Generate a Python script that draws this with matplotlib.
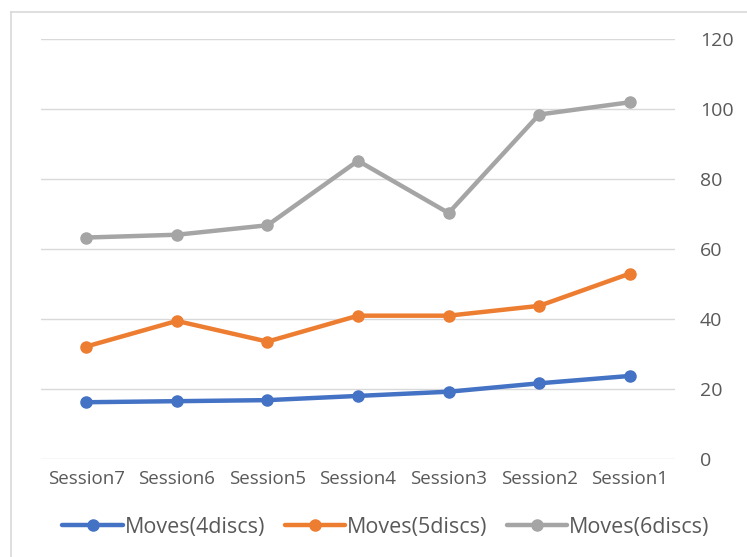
import matplotlib
matplotlib.use("Agg")
import matplotlib.pyplot as plt
from matplotlib.lines import Line2D

categories = ["Session7", "Session6", "Session5", "Session4", "Session3", "Session2", "Session1"]
moves_4discs = [16.2, 16.5, 16.8, 18.0, 19.2, 21.6, 23.7]
moves_5discs = [32.1, 39.4, 33.5, 40.9, 40.9, 43.7, 52.9]
moves_6discs = [63.2, 64.0, 66.7, 85.1, 70.2, 98.3, 101.8]
series_names = ["Moves(4discs)", "Moves(5discs)", "Moves(6discs)"]
colors = ["#4472C4", "#ED7D31", "#A5A5A5"]
y_ticks = [0, 20, 40, 60, 80, 100, 120]

plt.rcParams['font.family'] = ['Open Sans', 'DejaVu Sans']

W, H = 747, 557
fig = plt.figure(figsize=(W / 100, H / 100), dpi=100)
ax = fig.add_axes([41 / W, 1 - 459 / H, (675 - 41) / W, (459 - 38.5) / H])

x = list(range(len(categories)))
for vals, name, c in zip([moves_4discs, moves_5discs, moves_6discs], series_names, colors):
    ax.plot(x, vals, color=c, lw=3.2, marker="o", markersize=8, label=name,
            solid_capstyle="round", zorder=3)

ax.set_xlim(-0.5, len(categories) - 0.5)
ax.set_ylim(0, 120)
ax.set_yticks(y_ticks)
ax.yaxis.tick_right()
ax.set_xticks(x)
ax.set_xticklabels(categories)
ax.tick_params(axis="y", length=0, pad=18, labelsize=14, labelcolor="#595959")
ax.tick_params(axis="x", length=0, pad=8, labelsize=13.5, labelcolor="#595959")
ax.grid(axis="y", color="#D9D9D9", lw=1)
ax.set_axisbelow(True)
for s in ax.spines.values():
    s.set_visible(False)

leg = fig.legend(loc="center", bbox_to_anchor=(386 / W, 1 - 527 / H), ncol=3, frameon=False,
                 fontsize=15.5, handlelength=2.8, handletextpad=0.1, columnspacing=0.9,
                 labelcolor="#595959")

# chart-area border
fig.add_artist(Line2D([11 / W, 11 / W], [0, 1 - 12 / H], color="#D9D9D9", lw=1.2,
                      transform=fig.transFigure))
fig.add_artist(Line2D([11 / W, 1], [1 - 12 / H, 1 - 12 / H], color="#D9D9D9", lw=1.2,
                      transform=fig.transFigure))

fig.savefig("out.png", dpi=100)
